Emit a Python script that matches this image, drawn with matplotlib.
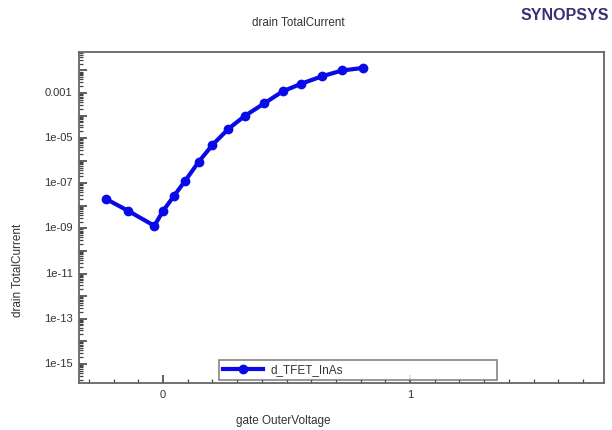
import matplotlib
matplotlib.use("Agg")
import matplotlib.pyplot as plt
from matplotlib.ticker import FixedLocator, LogLocator, NullFormatter, FixedFormatter
import numpy as np

plt.rcParams['font.family'] = ['Liberation Sans', 'DejaVu Sans']

# Data
gate_voltage = [-0.23, -0.14, -0.035, 0.0, 0.045, 0.09, 0.145, 0.2, 0.265,
                0.33, 0.41, 0.485, 0.56, 0.645, 0.725, 0.81]
drain_current = [2.0e-8, 5.9e-9, 1.3e-9, 5.9e-9, 2.8e-8, 1.3e-7, 9.1e-7, 5.0e-6,
                 2.6e-5, 9.5e-5, 3.5e-4, 1.2e-3, 2.6e-3, 5.6e-3, 1.0e-2, 1.3e-2]
series_name = "d_TFET_InAs"

y_tick_values = [1e-15, 1e-13, 1e-11, 1e-9, 1e-7, 1e-5, 1e-3]
y_tick_labels = ["1e-15", "1e-13", "1e-11", "1e-09", "1e-07", "1e-05", "0.001"]
x_tick_values = [0, 1]
x_tick_labels = ["0", "1"]

title_text = "drain TotalCurrent"
xlabel_text = "gate OuterVoltage"
ylabel_text = "drain TotalCurrent"
logo_text = "SYNOPSYS"

W, H = 612, 430
fig = plt.figure(figsize=(W / 100, H / 100), dpi=100)
ax = fig.add_axes([79 / W, 1 - 383 / H, (604 - 79) / W, (383 - 52) / H])

line_color = '#0a0ae6'
ax.plot(gate_voltage, drain_current, '-o', color=line_color, lw=3.0,
        markersize=6, markerfacecolor=line_color, markeredgecolor=line_color,
        label=series_name, zorder=3)

ax.set_yscale('log')
ax.set_xlim(-0.34, 1.785)
ax.set_ylim(1.4e-16, 0.066)

# y ticks
ax.yaxis.set_major_locator(LogLocator(base=10, numticks=40))
ax.yaxis.set_minor_locator(LogLocator(base=10, subs=np.arange(2, 10), numticks=40))
ax.yaxis.set_major_formatter(NullFormatter())
ax.yaxis.set_minor_formatter(NullFormatter())
for v, lab in zip(y_tick_values, y_tick_labels):
    ax.text(-0.012, v, lab, transform=ax.get_yaxis_transform(), ha='right',
            va='center', fontsize=8, color='#333333')

# x ticks
ax.xaxis.set_major_locator(FixedLocator(x_tick_values))
ax.xaxis.set_major_formatter(FixedFormatter(x_tick_labels))
ax.xaxis.set_minor_locator(FixedLocator(np.round(np.arange(-0.3, 1.8, 0.1), 2)))

ax.tick_params(axis='both', which='both', direction='in', color='#444444')
ax.tick_params(axis='both', which='major', length=6, width=1.2, labelsize=8,
               labelcolor='#333333', pad=5)
ax.tick_params(axis='both', which='minor', length=3, width=0.9)
ax.tick_params(axis='x', which='both', top=False)
ax.tick_params(axis='y', which='both', right=False)

for sp in ax.spines.values():
    sp.set_color('#666666')
    sp.set_linewidth(1.3)

leg = ax.legend(loc='lower left', bbox_to_anchor=(0.267, 0.009, 0.53, 0.085),
                mode='expand', fontsize=8.5, frameon=True, fancybox=False,
                handlelength=3.4, handletextpad=0.6, borderpad=0.35,
                borderaxespad=0)
leg.get_frame().set_edgecolor('#666666')
leg.get_frame().set_linewidth(1.2)
for t in leg.get_texts():
    t.set_color('#333333')

fig.text(298 / W, 1 - 23 / H, title_text, ha='center', va='center',
         fontsize=8.4, color='#333333')
fig.text(283 / W, 1 - 421 / H, xlabel_text, ha='center', va='center',
         fontsize=8.5, color='#333333')
fig.text(18 / W, 1 - 270 / H, ylabel_text, ha='center', va='center',
         rotation=90, fontsize=8.5, color='#333333')
fig.text(609 / W, 1 - 16 / H, logo_text, ha='right', va='center',
         fontsize=11.5, fontweight='bold', color='#3b2f78')

fig.savefig('out.png', dpi=100, facecolor='white')
